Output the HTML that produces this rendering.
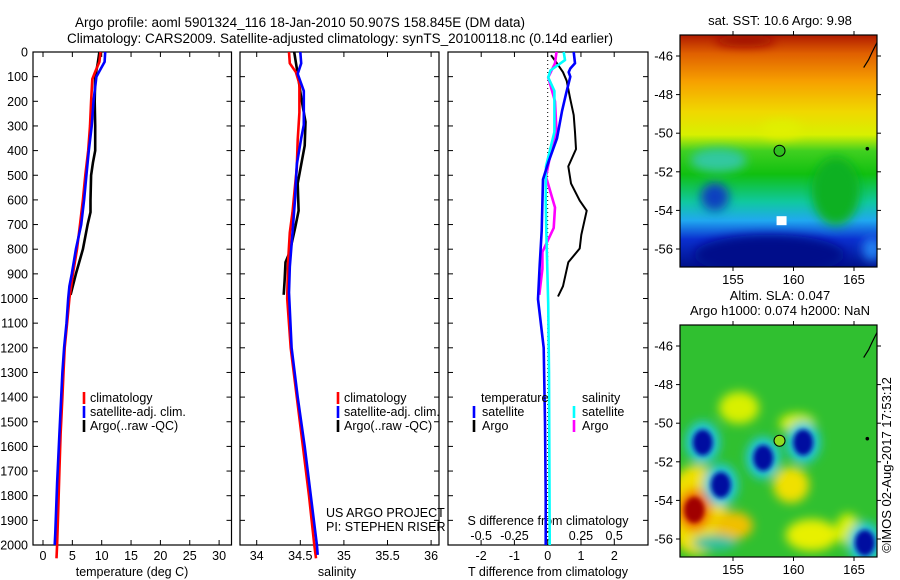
<!DOCTYPE html>
<html><head><meta charset="utf-8">
<style>
body{margin:0;background:#fff;}
svg{display:block;font-family:"Liberation Sans",sans-serif;}
</style></head>
<body>
<svg id="fig" width="900" height="580" viewBox="0 0 900 580" xmlns="http://www.w3.org/2000/svg">
<defs>
 <filter id="blur6" x="-50%" y="-50%" width="200%" height="200%"><feGaussianBlur stdDeviation="5"/></filter>
 <filter id="blur3" x="-50%" y="-50%" width="200%" height="200%"><feGaussianBlur stdDeviation="2.5"/></filter>
 <clipPath id="clipTop"><rect x="680" y="35" width="197" height="232"/></clipPath>
 <clipPath id="clipBot"><rect x="680" y="325" width="197" height="232"/></clipPath>
 <linearGradient id="sstGrad" x1="0" y1="0" x2="0" y2="1">
  <stop offset="0" stop-color="#b01a00"/>
  <stop offset="0.08" stop-color="#e06000"/>
  <stop offset="0.2" stop-color="#f7a000"/>
  <stop offset="0.33" stop-color="#f0d800"/>
  <stop offset="0.43" stop-color="#d8f000"/>
  <stop offset="0.5" stop-color="#40d020"/>
  <stop offset="0.6" stop-color="#10c010"/>
  <stop offset="0.72" stop-color="#10c8a0"/>
  <stop offset="0.8" stop-color="#20a8f0"/>
  <stop offset="0.88" stop-color="#0a30d0"/>
  <stop offset="1" stop-color="#00108a"/>
 </linearGradient>
</defs>
<g id="titles">
 <text x="300" y="27" font-size="13.5" text-anchor="middle">Argo profile: aoml 5901324_116 18-Jan-2010 50.907S 158.845E (DM data)</text>
 <text x="340" y="43" font-size="13.5" text-anchor="middle">Climatology: CARS2009. Satellite-adjusted climatology: synTS_20100118.nc (0.14d earlier)</text>
</g>
<g id="plots"></g>
<g id="maps"></g>
</svg>
<script>
// ---------- DATA ----------
const depthTicks = [0,100,200,300,400,500,600,700,800,900,1000,1100,1200,1300,1400,1500,1600,1700,1800,1900,2000];
const tempTicks = [0,5,10,15,20,25,30];
const salTicks = [34,34.5,35,35.5,36];
const salTickLabels = ["34","34.5","35","35.5","36"];
const tdiffTicks = [-2,-1,0,1,2];
const sdiffTicks = [-0.5,-0.25,0,0.25,0.5];
const sdiffTickLabels = ["-0.5","-0.25","0","0.25","0.5"];

const tClimDepth = [0,40,80,110,200,300,400,500,600,700,800,900,1000,1100,1200,1300,1400,1450,1550,1700,1850,2000,2054];
const tClimVal   = [9.8,9.6,8.9,8.4,8.2,8.0,7.7,7.2,6.8,6.3,5.8,5.1,4.5,4.1,3.7,3.5,3.3,3.2,3.0,2.8,2.6,2.4,2.3];
const tSatDepth  = [0,40,70,100,200,300,400,500,600,700,800,900,950,1000,1100,1200,1300,1400,1550,1750,1950,2000];
const tSatVal    = [10.6,10.5,9.8,9.1,8.6,8.3,7.8,7.4,7.0,6.5,5.6,4.9,4.5,4.3,4.0,3.6,3.3,3.1,2.8,2.4,2.1,2.0];
const tArgoDepth = [0,50,100,200,300,400,450,500,600,650,700,800,900,985];
const tArgoVal   = [9.6,9.3,8.9,8.8,8.9,8.9,8.5,8.2,8.1,8.1,7.6,6.8,5.6,4.7];

const sClimDepth = [0,46,82,129,246,357,469,650,733,850,1000,1200,1400,1600,1800,2000,2054];
const sClimVal   = [34.37,34.38,34.45,34.49,34.49,34.47,34.46,34.41,34.38,34.36,34.35,34.39,34.46,34.53,34.60,34.66,34.68];
const sSatDepth  = [0,46,89,158,296,350,456,594,733,872,976,1200,1400,1600,1800,2000,2040];
const sSatVal    = [34.50,34.51,34.47,34.54,34.54,34.51,34.46,34.44,34.41,34.38,34.37,34.40,34.47,34.55,34.62,34.69,34.70];
const sArgoDepth = [0,89,186,283,380,533,644,714,811,853,928,985];
const sArgoVal   = [34.43,34.47,34.51,34.56,34.55,34.47,34.48,34.44,34.38,34.33,34.32,34.31];

const dtSatDepth = [0,46,67,82,100,170,240,350,447,517,725,864,1003,1200,1500,1800,2000];
const dtSatVal   = [0.78,0.82,0.68,0.63,0.68,0.55,0.43,0.28,0.02,-0.14,-0.18,-0.24,-0.29,-0.12,-0.08,-0.06,-0.06];
const dtArgoDepth= [13,40,82,117,186,256,325,394,464,533,603,644,742,797,853,950,992];
const dtArgoVal  = [0.1,0.25,0.46,0.57,0.67,0.78,0.82,0.85,0.62,0.7,0.96,1.17,1.01,0.96,0.62,0.46,0.31];
const dsSatDepth = [0,33,75,103,158,325,464,603,742,1019,1300,1600,2000];
const dsSatVal   = [0.12,0.13,0.02,0.004,0.05,0.05,-0.013,-0.015,-0.01,0.004,0.01,0.012,0.015];
const dsArgoDepth= [0,46,103,200,325,436,506,631,714,811,880,985];
const dsArgoVal  = [0.066,0.055,0.004,0.055,0.066,0.013,-0.013,0.055,0.045,-0.04,-0.04,-0.063];

const lonTicks = [155,160,165];
const latTicks = [-46,-48,-50,-52,-54,-56];
const argoLon = 158.845, argoLat = -50.907;
const sstLabel = "sat. SST: 10.6 Argo: 9.98";
// SLA eddies: kind 1 = cold (blue), 2 = warm (red)
const slaLon = [152.5,154.0,157.5,160.8,151.8,165.9];
const slaLat = [-51.0,-53.2,-51.8,-51.0,-54.5,-56.2];
const slaKind = [1,1,1,1,2,1];

// ---------- SCALES ----------
const Y0=52, Y1=545;
const yD = d => Y0 + d*0.2465;
const P1={x0:33,x1:231.5}, P2={x0:240,x1:439}, P3={x0:448,x1:648};
const xT = t => 43 + t*5.87;
const xS = s => 256.7 + (s-34)*87.2;
const xDT = t => 547.7 + t*33.3;
const xDS = s => 547.7 + s*133;
const NS="http://www.w3.org/2000/svg";
const plots=document.getElementById('plots');
const maps=document.getElementById('maps');
function mk(tag,attrs,parent){const e=document.createElementNS(NS,tag);for(const k in attrs)e.setAttribute(k,attrs[k]);(parent||plots).appendChild(e);return e;}

function profLine(depths,vals,xf,color,name,w){
  const pts=depths.map((d,i)=>xf(vals[i]).toFixed(1)+","+yD(d).toFixed(1));
  const p=mk('polyline',{points:pts.join(' '),fill:'none',stroke:color,'stroke-width':w||2.6,'stroke-linejoin':'round'});
  
  
  return p;
}
function frame(P,name){
  const r=mk('rect',{x:P.x0,y:Y0,width:P.x1-P.x0,height:Y1-Y0,fill:'none',stroke:'#000','stroke-width':1.2});
  
  
  for(const d of depthTicks){const y=yD(d);
    mk('line',{x1:P.x0,y1:y,x2:P.x0+5,y2:y,stroke:'#000'});
    mk('line',{x1:P.x1-5,y1:y,x2:P.x1,y2:y,stroke:'#000'});}
}
function txt(x,y,s,anchor,name,size){
  const t=mk('text',{x:x,y:y,'font-size':size||12.5,'text-anchor':anchor||'start'});
  t.textContent=s;
  
  
  return t;
}
function legendBar(x,y,color){mk('rect',{x:x-1.3,y:y-10,width:2.6,height:12,fill:color});}

frame(P1,'temperature-panel');frame(P2,'salinity-panel');frame(P3,'difference-panel');
for(const d of depthTicks){ txt(28,yD(d)+4.5,String(d),'end','depth-tick-label'); }
for(const v of tempTicks){const x=xT(v);
  mk('line',{x1:x,y1:Y1,x2:x,y2:Y1-5,stroke:'#000'});mk('line',{x1:x,y1:Y0,x2:x,y2:Y0+5,stroke:'#000'});
  txt(x,560,String(v),'middle','temperature-tick-label');}
txt(132,576,'temperature (deg C)','middle','temperature-axis-title');
for(let i=0;i<salTicks.length;i++){const x=xS(salTicks[i]);
  mk('line',{x1:x,y1:Y1,x2:x,y2:Y1-5,stroke:'#000'});mk('line',{x1:x,y1:Y0,x2:x,y2:Y0+5,stroke:'#000'});
  txt(x,560,salTickLabels[i],'middle','salinity-tick-label');}
txt(337,576,'salinity','middle','salinity-axis-title');
for(const v of tdiffTicks){const x=xDT(v);
  mk('line',{x1:x,y1:Y1,x2:x,y2:Y1-5,stroke:'#000'});
  txt(x,560,String(v),'middle','t-diff-tick-label');}
for(let i=0;i<sdiffTicks.length;i++){const x=xDS(sdiffTicks[i]);
  mk('line',{x1:x,y1:Y0,x2:x,y2:Y0+5,stroke:'#000'});
  txt(x,540,sdiffTickLabels[i],'middle','s-diff-tick-label');}
txt(548,525,'S difference from climatology','middle','s-diff-axis-title');
txt(548,576,'T difference from climatology','middle','t-diff-axis-title');
mk('line',{x1:xDT(0),y1:Y0,x2:xDT(0),y2:Y1,stroke:'#000','stroke-dasharray':'1,3','stroke-width':1});

profLine(tArgoDepth,tArgoVal,xT,'#000','temperature-argo-line');
profLine(tClimDepth,tClimVal,xT,'#f00','temperature-climatology-line');
profLine(tSatDepth,tSatVal,xT,'#00f','temperature-satellite-line');
profLine(sArgoDepth,sArgoVal,xS,'#000','salinity-argo-line');
profLine(sClimDepth,sClimVal,xS,'#f00','salinity-climatology-line');
profLine(sSatDepth,sSatVal,xS,'#00f','salinity-satellite-line');
profLine(dtArgoDepth,dtArgoVal,xDT,'#000','t-diff-argo-line',2);
profLine(dsArgoDepth,dsArgoVal,xDS,'#f0f','s-diff-argo-line');
profLine(dsSatDepth,dsSatVal,xDS,'#0ff','s-diff-satellite-line');
profLine(dtSatDepth,dtSatVal,xDT,'#00f','t-diff-satellite-line');

const legA=[['#f00','climatology'],['#00f','satellite-adj. clim.'],['#000','Argo(..raw -QC)']];
legA.forEach((l,i)=>{legendBar(84,398+i*14+4,l[0]);txt(90,402+i*14,l[1],'start','legend-entry-temp');
  legendBar(338,398+i*14+4,l[0]);txt(344,402+i*14,l[1],'start','legend-entry-sal');});
txt(326,517,'US ARGO PROJECT','start','project-credit');
txt(326,531,'PI: STEPHEN RISER','start','pi-credit');
txt(481,402,'temperature','start','legend-title-temperature');
txt(582,402,'salinity','start','legend-title-salinity');
legendBar(474,416,'#00f');txt(482,416,'satellite','start','legend-t-satellite');
legendBar(474,430,'#000');txt(482,430,'Argo','start','legend-t-argo');
legendBar(574,416,'#0ff');txt(582,416,'satellite','start','legend-s-satellite');
legendBar(574,430,'#f0f');txt(582,430,'Argo','start','legend-s-argo');

// ---------- MAPS ----------
const mx = lon => 733 + (lon-155)*12.1;
const my = (lat,off) => 56 + off + (-46-lat)*19.3;
function m(tag,attrs,parent){const e=document.createElementNS(NS,tag);for(const k in attrs)e.setAttribute(k,attrs[k]);parent.appendChild(e);return e;}

function mapAxes(off,name){
  const g=m('g',{},maps);
  
  
  m('rect',{x:680,y:35+off,width:197,height:232,fill:'none',stroke:'#000','stroke-width':1.2},g);
  for(const lo of lonTicks){const x=mx(lo);
    m('line',{x1:x,y1:35+off,x2:x,y2:31+off,stroke:'#000'},g);
    m('line',{x1:x,y1:267+off,x2:x,y2:271+off,stroke:'#000'},g);
    const t=m('text',{x:x,y:284+off,'font-size':13,'text-anchor':'middle'},g);t.textContent=String(lo);}
  for(const la of latTicks){const y=my(la,off);
    m('line',{x1:680,y1:y,x2:676,y2:y,stroke:'#000'},g);
    m('line',{x1:877,y1:y,x2:881,y2:y,stroke:'#000'},g);
    const t=m('text',{x:673,y:y+4.5,'font-size':13,'text-anchor':'end'},g);t.textContent=String(la);}
  m('path',{d:`M ${mx(165.8)} ${my(-46.6,off)} L ${mx(166.2)} ${my(-46.2,off)} L ${mx(166.5)} ${my(-45.8,off)} L ${mx(166.9)} ${my(-45.3,off)}`,fill:'none',stroke:'#000','stroke-width':1.2},g);
  m('circle',{cx:mx(166.1),cy:my(-50.8,off),r:1.8,fill:'#000'},g);
  m('circle',{cx:mx(argoLon),cy:my(argoLat,off),r:5.5,fill:off?'#8fdc20':'#30c020',stroke:'#000','stroke-width':1},g);
}

(function(){
  const g=m('g',{'clip-path':'url(#clipTop)'},maps);
  
  
  m('rect',{x:680,y:35,width:197,height:232,fill:'url(#sstGrad)'},g);
  const b=m('g',{filter:'url(#blur6)'},g);
  m('ellipse',{cx:mx(153.8),cy:my(-51.4,0),rx:28,ry:12,fill:'#30c8a0'},b);
  m('ellipse',{cx:mx(153.5),cy:my(-53.3,0),rx:14,ry:14,fill:'#1040c0'},b);
  m('ellipse',{cx:mx(158),cy:my(-56.3,0),rx:75,ry:20,fill:'#00108a'},b);
  m('ellipse',{cx:mx(163.5),cy:my(-53.0,0),rx:24,ry:34,fill:'#10b020'},b);
  m('ellipse',{cx:mx(159),cy:my(-49.8,0),rx:20,ry:9,fill:'#e0f000'},b);
  m('ellipse',{cx:mx(166.5),cy:my(-56,0),rx:10,ry:12,fill:'#2080f0'},b);
  m('ellipse',{cx:mx(156),cy:my(-45.2,0),rx:30,ry:6,fill:'#a01000'},b);
  m('rect',{x:mx(158.6),y:my(-54.3,0),width:10,height:9,fill:'#fff'},g);
})();
mapAxes(0,'sst-map-axes');
(function(){
  const g=m('g',{'clip-path':'url(#clipBot)'},maps);
  
  
  m('rect',{x:680,y:325,width:197,height:232,fill:'#30c030'},g);
  const b=m('g',{filter:'url(#blur6)'},g);
  m('ellipse',{cx:mx(152),cy:my(-54.5,290),rx:30,ry:45,fill:'#f0e000'},b);
  m('ellipse',{cx:mx(155.5),cy:my(-49.2,290),rx:20,ry:16,fill:'#d8f000'},b);
  m('ellipse',{cx:mx(160.3),cy:my(-50,290),rx:18,ry:10,fill:'#d8f000'},b);
  m('ellipse',{cx:mx(159.8),cy:my(-53.2,290),rx:18,ry:18,fill:'#f0e000'},b);
  m('ellipse',{cx:mx(161.5),cy:my(-55.8,290),rx:26,ry:16,fill:'#e8f000'},b);
  m('ellipse',{cx:mx(155),cy:my(-55.3,290),rx:20,ry:14,fill:'#f0c000'},b);
  m('ellipse',{cx:mx(164.5),cy:my(-55.5,290),rx:12,ry:16,fill:'#d8f000'},b);
  m('ellipse',{cx:mx(153.5),cy:my(-56.2,290),rx:22,ry:8,fill:'#30c0a0'},b);
  for(let i=0;i<slaLon.length;i++){
    const cx=mx(slaLon[i]), cy=my(slaLat[i],290);
    const e1=m('ellipse',{cx:cx,cy:cy,rx:17,ry:21,fill:slaKind[i]===1?'#20c8e0':'#f07000'},b);
    
    
  }
  const b2=m('g',{filter:'url(#blur3)'},g);
  for(let i=0;i<slaLon.length;i++){
    const cx=mx(slaLon[i]), cy=my(slaLat[i],290);
    m('ellipse',{cx:cx,cy:cy,rx:10,ry:13,fill:slaKind[i]===1?'#0010a0':'#a00000'},b2);
  }
})();
mapAxes(290,'sla-map-axes');
(function(){
  const add=(x,y,s,name,extra)=>{const t=m('text',Object.assign({x:x,y:y,'font-size':13,'text-anchor':'middle'},extra||{}),maps);t.textContent=s;
    
    };
  add(780,25,sstLabel,'sst-map-title');
  add(780,300,'Altim. SLA: 0.047','sla-map-title');
  add(780,315,'Argo h1000: 0.074 h2000: NaN','argo-height-title');
  add(891,465,'©IMOS 02-Aug-2017 17:53:12','imos-timestamp',{transform:'rotate(-90 891 465)'});
})();
</script>
</body></html>
